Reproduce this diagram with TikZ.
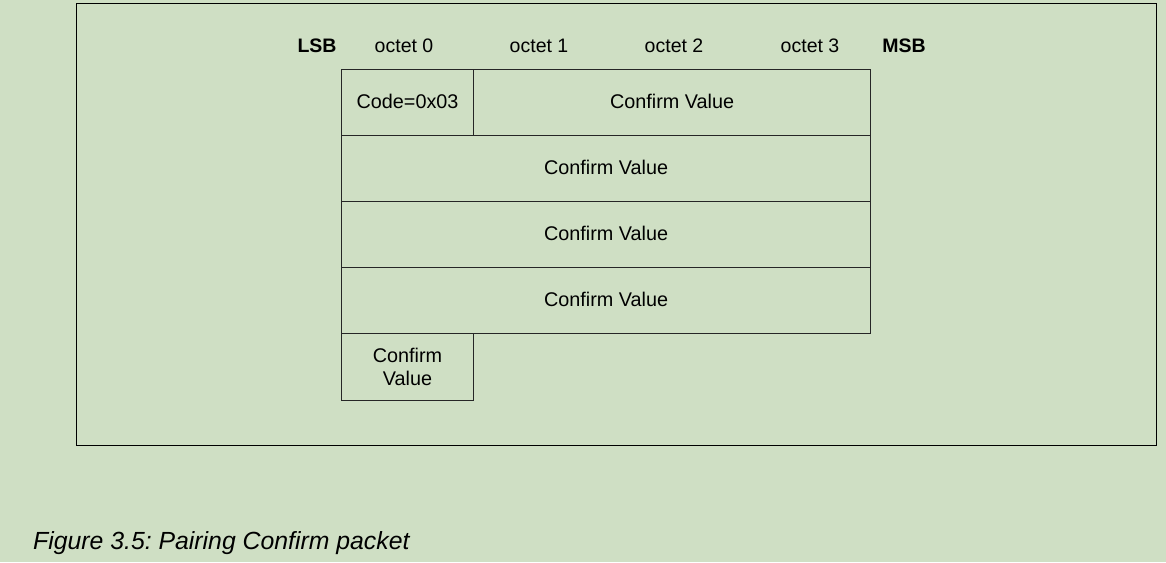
\documentclass[tikz,border=0pt]{standalone}
\usepackage{fontspec}
\setmainfont{Liberation Sans}
\frenchspacing
\definecolor{bg}{HTML}{CFDFC4}
\begin{document}
\begin{tikzpicture}[x=1pt,y=-1pt,
  field/.style={draw=black!85, line width=1.1pt, rectangle, inner sep=0pt, anchor=north west, align=center, font=\fontsize{19.8}{22.5}\selectfont},
  hdr/.style={font=\fontsize{19.5}{22}\selectfont, inner sep=0pt},
  hdrb/.style={font=\fontsize{19.5}{22}\selectfont\bfseries, inner sep=0pt}]
\fill[bg] (0,0) rectangle (1166,562);
\useasboundingbox (0,0) rectangle (1166,562);
\node[draw=black, line width=1.1pt, rectangle, inner sep=0pt, anchor=north west, minimum width=1080pt, minimum height=442pt] (frame) at (76,3) {};
\node[hdrb] (lsb) at (317,46) {LSB};
\node[hdr] (o0) at (404,46) {octet 0};
\node[hdr] (o1) at (539,46) {octet 1};
\node[hdr] (o2) at (674,46) {octet 2};
\node[hdr] (o3) at (810,46) {octet 3};
\node[hdrb] (msb) at (904,46) {MSB};
\node[field, minimum width=132pt, minimum height=66pt] (code) at (341,69) {\raisebox{1.5pt}{Code=0x03}};
\node[field, minimum width=397pt, minimum height=66pt] (cv1) at (473,69) {\raisebox{1.5pt}{Confirm Value}};
\node[field, minimum width=529pt, minimum height=66pt] (cv2) at (341,135) {\raisebox{1.5pt}{Confirm Value}};
\node[field, minimum width=529pt, minimum height=66pt] (cv3) at (341,201) {\raisebox{1.5pt}{Confirm Value}};
\node[field, minimum width=529pt, minimum height=66pt] (cv4) at (341,267) {\raisebox{1.5pt}{Confirm Value}};
\node[field, minimum width=132pt, minimum height=67pt, font=\fontsize{19.8}{23}\selectfont] (cv5) at (341,333) {Confirm\\Value};
\node[anchor=west, inner sep=0pt, font=\fontsize{24.8}{28}\selectfont\itshape] (cap) at (33,543) {Figure 3.5: Pairing Confirm packet};
\end{tikzpicture}
\end{document}
